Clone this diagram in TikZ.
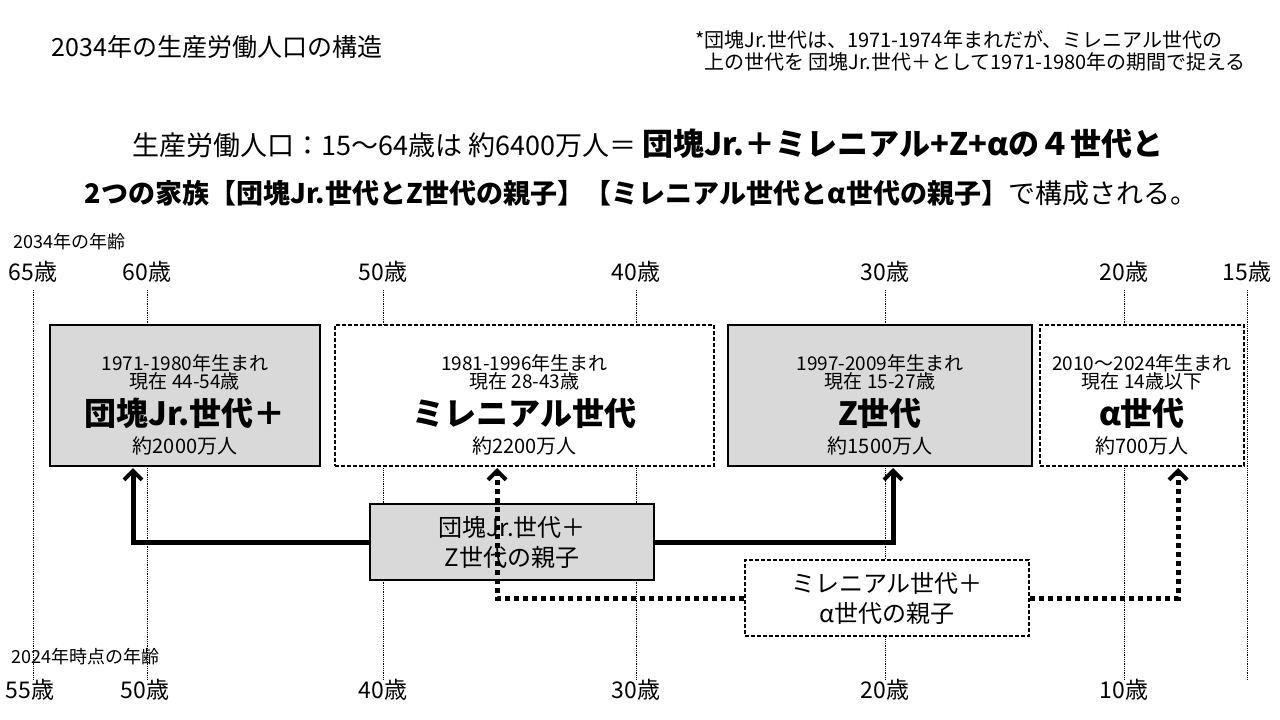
\documentclass[tikz,border=0pt]{standalone}
\usepackage{fontspec}
\setmainfont{Noto Sans CJK JP}
\usetikzlibrary{arrows.meta}
\newcommand{\fs}[1]{\fontsize{#1}{#1}\selectfont}
\begin{document}
\begin{tikzpicture}[x=1pt,y=-1pt]
	\tikzset{age/.style={font=\fs{23}, inner sep=0pt},
		grid/.style={densely dotted, line width=0.8pt},
		gen/.style={draw=black, line width=1.2pt, align=center, minimum height=141pt, inner sep=0pt},
		shade/.style={fill=gray!30},
		dashbox/.style={dash pattern=on 4pt off 2pt},
		fam/.style={draw=black, line width=1.2pt, align=center, minimum width=284pt, minimum height=76pt, font=\fs{24}, inner sep=0pt},
		link/.style={line width=5pt, -{Straight Barb[length=9pt,width=18pt,line width=4pt]}},
		dlink/.style={link, dash pattern=on 5pt off 4pt}};
	\useasboundingbox (0,0) rectangle (1280,720);

	\node[anchor=west, font=\fs{25}] (ttl) at (48,47) {2034年の生産労働人口の構造};
	\node[anchor=north west, align=left, font=\fs{20}, inner sep=0pt] (note) at (695,30) {*団塊Jr.世代は、1971-1974年まれだが、ミレニアル世代の\\[2pt] \ \ 上の世代を 団塊Jr.世代＋として1971-1980年の期間で捉える};
	\node[font=\fs{27}] (h1) at (648,144) {生産労働人口：15～64歳は 約6400万人＝ {\bfseries\fs{31}団塊Jr.＋ミレニアル+Z+αの４世代と}};
	\node[font=\fs{27}] (h2) at (641,193) {\bfseries 2つの家族【団塊Jr.世代とZ世代の親子】【ミレニアル世代とα世代の親子】\mdseries で構成される。};

	\node[anchor=west, font=\fs{18}] (top) at (10,242) {2034年の年齢};
	\node[anchor=west, font=\fs{18}] (bot) at (8,657) {2024年時点の年齢};

	% age grid
	\foreach \x/\t in {33/65, 147/60, 383/50, 636/40, 885/30, 1124/20, 1247/15} {
		\node[age] (t\t) at (\x,272) {\t 歳};
		\draw[grid] (\x,290) -- (\x,680);
	}
	\foreach \x/\b in {30/55, 145/50, 383/40, 636/30, 885/20, 1124/10}
		\node[age] (b\b) at (\x,690) {\b 歳};

	% generations
	\node[gen, shade, minimum width=270pt] (dj) at (185,395.5) {};
	\node[gen, fill=white, dashbox, minimum width=379pt] (ml) at (524.5,395.5) {};
	\node[gen, shade, minimum width=304pt] (zg) at (880,395.5) {};
	\node[gen, fill=white, dashbox, minimum width=204pt] (ag) at (1142,395.5) {};
	\foreach \n/\y/\a/\k/\c in {dj/1971-1980/44-54/団塊Jr.世代＋/2000, ml/1981-1996/28-43/ミレニアル世代/2200, zg/1997-2009/15-27/Z世代/1500} {
		\node[font=\fs{19}, align=center] at ([yshift=23pt]\n.center) {\y 年生まれ\\[-1pt]現在 \a 歳};
		\node[font=\bfseries\fs{32}] at ([yshift=-18pt]\n.center) {\k};
		\node[font=\fs{20}] at ([yshift=-50pt]\n.center) {約\c 万人};
	}
	\node[font=\fs{19}, align=center] at ([yshift=23pt]ag.center) {2010～2024年生まれ\\[-1pt]現在 14歳以下};
	\node[font=\bfseries\fs{32}] at ([yshift=-18pt]ag.center) {α世代};
	\node[font=\fs{20}] at ([yshift=-50pt]ag.center) {約700万人};

	% families
	\node[fam, shade] (f1) at (512,542) {団塊Jr.世代＋\\[6pt]Z世代の親子};
	\node[fam, fill=white, dashbox] (f2) at (887,598) {ミレニアル世代＋\\[6pt]α世代の親子};

	\draw[link] (f1.west) -| (133,468);
	\draw[link] (f1.east) -| (893,468);
	\draw[dlink] (f2.west) -| (497,468);
	\draw[dlink] (f2.east) -| (1178,468);
\end{tikzpicture}
\end{document}
